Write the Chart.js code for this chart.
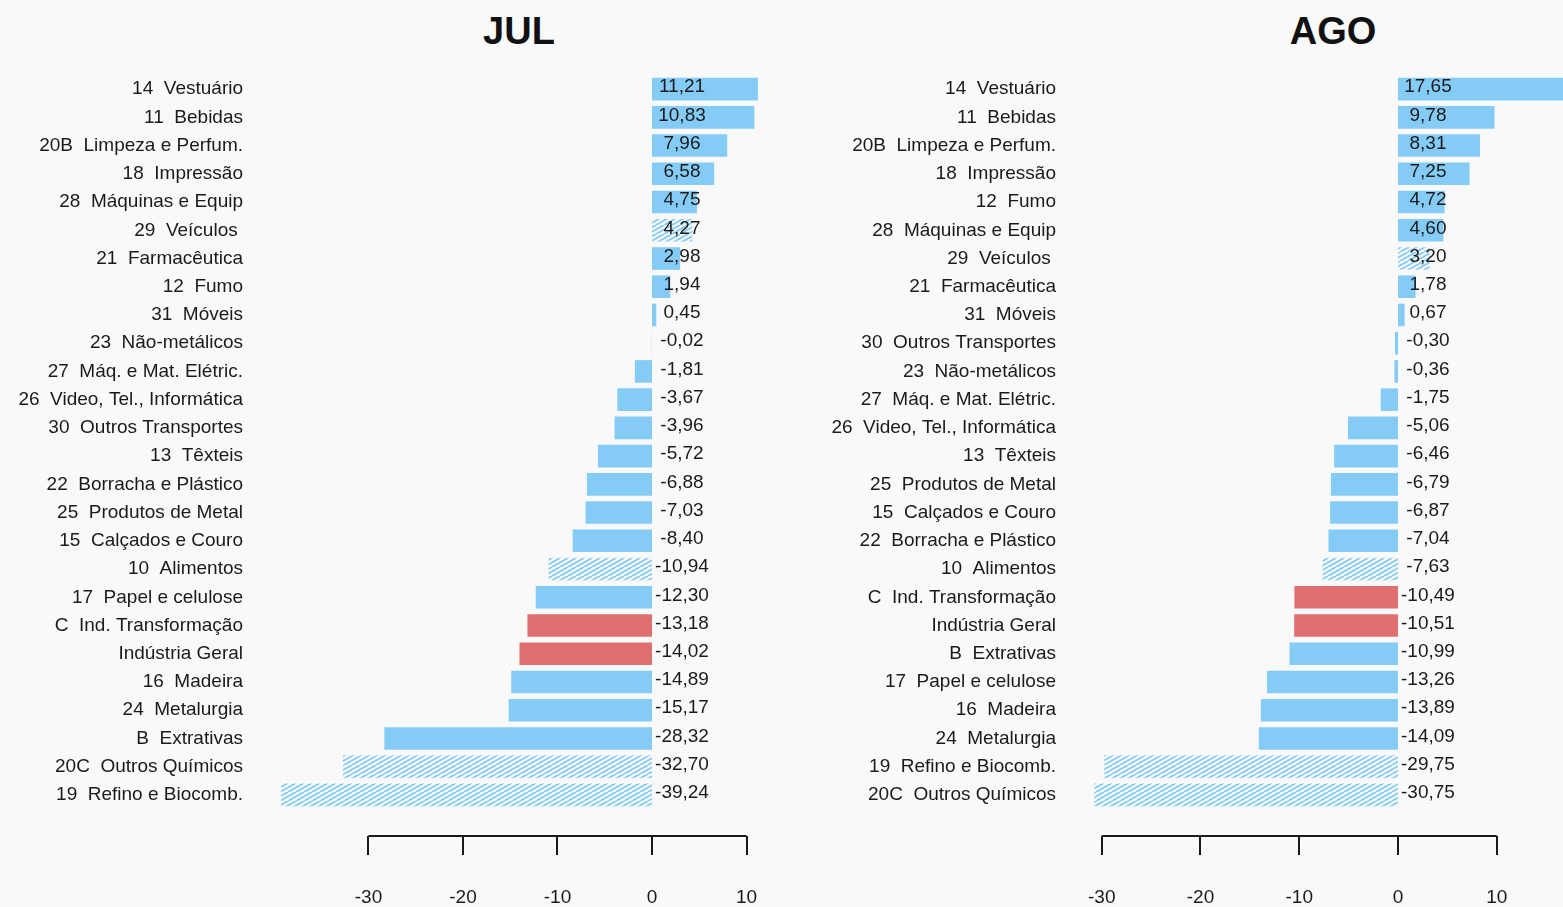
<!DOCTYPE html>
<html>
<head>
<meta charset="utf-8">
<script src="https://cdn.jsdelivr.net/npm/chart.js@4.4.1/dist/chart.umd.min.js"></script>
<style>
  html, body { margin: 0; padding: 0; background: #f9f9f9; width: 1563px; height: 907px; overflow: hidden; }
  canvas { position: absolute; top: 0; }
  #cJul { left: 0; }
  #cAgo { left: 800px; }
  .title { position: absolute; top: 8px; font-family: "Liberation Sans", Arial, sans-serif; font-weight: bold; font-size: 38px; color: #111; transform: translateX(-50%); line-height: 46px; }
</style>
</head>
<body>
<div class="title" style="left:519px">JUL</div>
<div class="title" style="left:1333px">AGO</div>
<canvas id="cJul" width="800" height="907"></canvas>
<canvas id="cAgo" width="763" height="907"></canvas>
<script>
// ---- DATA ----
const julCategories = [
  "14  Vestuário", "11  Bebidas", "20B  Limpeza e Perfum.", "18  Impressão",
  "28  Máquinas e Equip", "29  Veículos ", "21  Farmacêutica", "12  Fumo",
  "31  Móveis", "23  Não-metálicos", "27  Máq. e Mat. Elétric.",
  "26  Video, Tel., Informática", "30  Outros Transportes", "13  Têxteis",
  "22  Borracha e Plástico", "25  Produtos de Metal", "15  Calçados e Couro",
  "10  Alimentos", "17  Papel e celulose", "C  Ind. Transformação",
  "Indústria Geral", "16  Madeira", "24  Metalurgia", "B  Extrativas",
  "20C  Outros Químicos", "19  Refino e Biocomb."
];
const julValues = [
  11.21, 10.83, 7.96, 6.58, 4.75, 4.27, 2.98, 1.94, 0.45, -0.02, -1.81,
  -3.67, -3.96, -5.72, -6.88, -7.03, -8.40, -10.94, -12.30, -13.18,
  -14.02, -14.89, -15.17, -28.32, -32.70, -39.24
];
const agoCategories = [
  "14  Vestuário", "11  Bebidas", "20B  Limpeza e Perfum.", "18  Impressão",
  "12  Fumo", "28  Máquinas e Equip", "29  Veículos ", "21  Farmacêutica",
  "31  Móveis", "30  Outros Transportes", "23  Não-metálicos",
  "27  Máq. e Mat. Elétric.", "26  Video, Tel., Informática", "13  Têxteis",
  "25  Produtos de Metal", "15  Calçados e Couro", "22  Borracha e Plástico",
  "10  Alimentos", "C  Ind. Transformação", "Indústria Geral", "B  Extrativas",
  "17  Papel e celulose", "16  Madeira", "24  Metalurgia",
  "19  Refino e Biocomb.", "20C  Outros Químicos"
];
const agoValues = [
  17.65, 9.78, 8.31, 7.25, 4.72, 4.60, 3.20, 1.78, 0.67, -0.30, -0.36,
  -1.75, -5.06, -6.46, -6.79, -6.87, -7.04, -7.63, -10.49, -10.51, -10.99,
  -13.26, -13.89, -14.09, -29.75, -30.75
];
const hatchedCodes = ["29", "10", "20C", "19"];
const highlightedCodes = ["C", "Indústria Geral"];
const axisTicks = [-30, -20, -10, 0, 10];

// ---- STYLE ----
const BLUE = "#84cbf6";
const RED = "#e07070";
const TEXT = "#1a1a1a";
const FONT = '"Liberation Sans", Arial, sans-serif';

function makeHatchCanvas() {
  const c = document.createElement("canvas");
  c.width = 16; c.height = 9;
  const g = c.getContext("2d");
  g.strokeStyle = BLUE;
  g.lineWidth = 1.8;
  for (let o = -16; o <= 24; o += 8) {
    g.beginPath();
    g.moveTo(o, 9);
    g.lineTo(o + 16, 0);
    g.stroke();
  }
  return c;
}

function codeOf(label) {
  const t = label.trim();
  if (t === "Indústria Geral") return t;
  return t.split(/\s+/)[0];
}

function colorsFor(cats, ctx) {
  const hatch = ctx.createPattern(makeHatchCanvas(), "repeat");
  return cats.map(l => {
    const c = codeOf(l);
    if (highlightedCodes.includes(c)) return RED;
    if (hatchedCodes.includes(c)) return hatch;
    return BLUE;
  });
}

const overlay = {
  id: "overlay",
  afterDatasetsDraw(chart) {
    const ctx = chart.ctx;
    const xs = chart.scales.x, ys = chart.scales.y;
    const vals = chart.data.datasets[0].data;
    const x0 = xs.getPixelForValue(0);
    ctx.save();
    ctx.fillStyle = TEXT;
    ctx.font = "19px " + FONT;
    ctx.textAlign = "center";
    ctx.textBaseline = "middle";
    vals.forEach((v, i) => {
      const y = ys.getPixelForValue(i) - 2;
      ctx.fillText(v.toFixed(2).replace(".", ","), x0 + 30, y);
    });
    // custom bottom axis
    const yAxis = 836;
    const left = xs.getPixelForValue(axisTicks[0]);
    const right = xs.getPixelForValue(axisTicks[axisTicks.length - 1]);
    ctx.strokeStyle = TEXT;
    ctx.lineWidth = 2;
    ctx.beginPath();
    ctx.moveTo(left, yAxis);
    ctx.lineTo(right, yAxis);
    axisTicks.forEach(t => {
      const px = Math.round(xs.getPixelForValue(t));
      ctx.moveTo(px, yAxis);
      ctx.lineTo(px, yAxis + 19);
    });
    ctx.stroke();
    ctx.font = "19px " + FONT;
    ctx.textAlign = "center";
    axisTicks.forEach(t => {
      ctx.fillText(String(t), xs.getPixelForValue(t), 898);
    });
    ctx.restore();
  }
};

function build(id, cats, vals, yWidth, yPad, xmin, xmax) {
  const canvas = document.getElementById(id);
  const ctx = canvas.getContext("2d");
  return new Chart(ctx, {
    type: "bar",
    data: {
      labels: cats,
      datasets: [{
        data: vals,
        backgroundColor: colorsFor(cats, ctx),
        borderWidth: 0,
        barPercentage: 0.8,
        categoryPercentage: 1.0
      }]
    },
    options: {
      indexAxis: "y",
      responsive: false,
      animation: false,
      devicePixelRatio: 1,
      layout: { padding: { top: 75, bottom: 98, left: 0, right: 0 } },
      plugins: { legend: { display: false }, tooltip: { enabled: false }, title: { display: false } },
      scales: {
        x: { type: "linear", min: xmin, max: xmax, display: false },
        y: {
          type: "category",
          grid: { display: false, drawTicks: false },
          border: { display: false },
          ticks: { autoSkip: false, padding: yPad, color: TEXT, font: { family: FONT, size: 19 } },
          afterFit(scale) { scale.width = yWidth; }
        }
      }
    },
    plugins: [overlay]
  });
}

// JUL: chart area 270..800, zero at 652, 9.45 px/unit
build("cJul", julCategories, julValues, 270, 27, -40.42, 15.66);
// AGO: chart area 1080..1563 (canvas 280..763), zero at 1398, 9.875 px/unit
build("cAgo", agoCategories, agoValues, 280, 24, -32.2, 16.71);
</script>
</body>
</html>
